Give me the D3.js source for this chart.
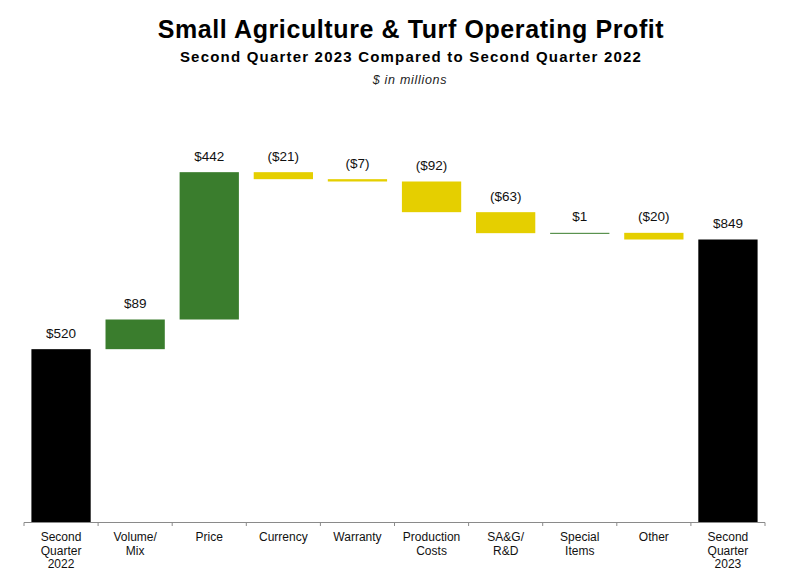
<html>
    <head>
        <script src="https://d3js.org/d3.v7.min.js"></script>
        <style>
            body{ margin:0; background:#fff; }
            text{ font-family: Arial, "Liberation Sans", sans-serif; }
        </style>
    </head>
    <body>
        <svg id="svg" width="789" height="585"></svg>
        <script>
            // waterfall data
            var categories = ["Second|Quarter|2022", "Volume/|Mix", "Price", "Currency", "Warranty",
                              "Production|Costs", "SA&G/|R&D", "Special|Items", "Other", "Second|Quarter|2023"];
            var values = [520, 89, 442, -21, -7, -92, -63, 1, -20, 849];
            var kinds = ["total", "delta", "delta", "delta", "delta", "delta", "delta", "delta", "delta", "total"];
            var valueLabels = ["$520", "$89", "$442", "($21)", "($7)", "($92)", "($63)", "$1", "($20)", "$849"];

            var svg = d3.select("svg");
            var axisY = 522.5;

            var x = d3.scaleBand()
                .domain(categories)
                .range([24, 765])
                .paddingInner(0.2)
                .paddingOuter(0.1);

            var y = d3.scaleLinear()
                .domain([0, 1100])
                .range([axisY, axisY - 1100/3]);

            // running totals
            var run = 0;
            var bars = [];
            for(var i=0;i<values.length;i++){
                var lo, hi;
                if(kinds[i]=="total"){
                    lo = 0; hi = values[i]; run = values[i];
                } else {
                    lo = Math.min(run, run+values[i]);
                    hi = Math.max(run, run+values[i]);
                    run = run + values[i];
                }
                var color = kinds[i]=="total" ? "#000000" : (values[i]>=0 ? "#3a7d2d" : "#e5cf00");
                bars.push({cat:categories[i], lo:lo, hi:hi, color:color, label:valueLabels[i]});
            }

            svg.append("g").selectAll("rect")
                .data(bars)
                .enter().append("rect")
                .attr("x", function(d){ return x(d.cat); })
                .attr("width", x.bandwidth())
                .attr("y", function(d){ return y(d.hi); })
                .attr("height", function(d){ return Math.max(1, y(d.lo) - y(d.hi)); })
                .attr("fill", function(d){ return d.color; });

            svg.append("g").selectAll("text")
                .data(bars)
                .enter().append("text")
                .attr("x", function(d){ return x(d.cat) + x.bandwidth()/2; })
                .attr("y", function(d){ return y(d.hi) - 11.5; })
                .attr("text-anchor", "middle")
                .attr("font-size", "13.5px")
                .attr("fill", "#111")
                .text(function(d){ return d.label; });

            // category axis: ticks on the band edges
            var edges = [];
            for(var k=0;k<=categories.length;k++) edges.push(24 + k*(765-24)/categories.length);
            var ax = svg.append("g");
            ax.append("line")
                .attr("x1", 24).attr("x2", 765)
                .attr("y1", axisY).attr("y2", axisY)
                .attr("stroke", "#8a8a8a").attr("stroke-width", 1);
            ax.selectAll(".tick")
                .data(edges)
                .enter().append("line")
                .attr("x1", function(d){ return d; }).attr("x2", function(d){ return d; })
                .attr("y1", axisY).attr("y2", axisY + 3.5)
                .attr("stroke", "#8a8a8a").attr("stroke-width", 1);

            var catLabels = ax.selectAll(".cat")
                .data(categories)
                .enter().append("text")
                .attr("text-anchor", "middle")
                .attr("font-size", "12px")
                .attr("fill", "#111");
            catLabels.each(function(c){
                var t = d3.select(this);
                c.split("|").forEach(function(line, j){
                    t.append("tspan")
                        .attr("x", x(c) + x.bandwidth()/2)
                        .attr("y", axisY + 18.5 + j*13.7)
                        .text(line);
                });
            });

            // titles
            svg.append("text")
                .attr("x", 411).attr("y", 38)
                .attr("text-anchor", "middle")
                .attr("font-size", "25px").attr("font-weight", "bold")
                .attr("letter-spacing", "0.6px")
                .text("Small Agriculture & Turf Operating Profit");
            svg.append("text")
                .attr("x", 411).attr("y", 62)
                .attr("text-anchor", "middle")
                .attr("font-size", "15px").attr("font-weight", "bold")
                .attr("letter-spacing", "1.2px")
                .text("Second Quarter 2023 Compared to Second Quarter 2022");
            svg.append("text")
                .attr("x", 410).attr("y", 84)
                .attr("text-anchor", "middle")
                .attr("font-size", "12.5px").attr("font-style", "italic")
                .attr("letter-spacing", "0.7px")
                .attr("fill", "#222")
                .text("$ in millions");
        </script>
    </body>
</html>
